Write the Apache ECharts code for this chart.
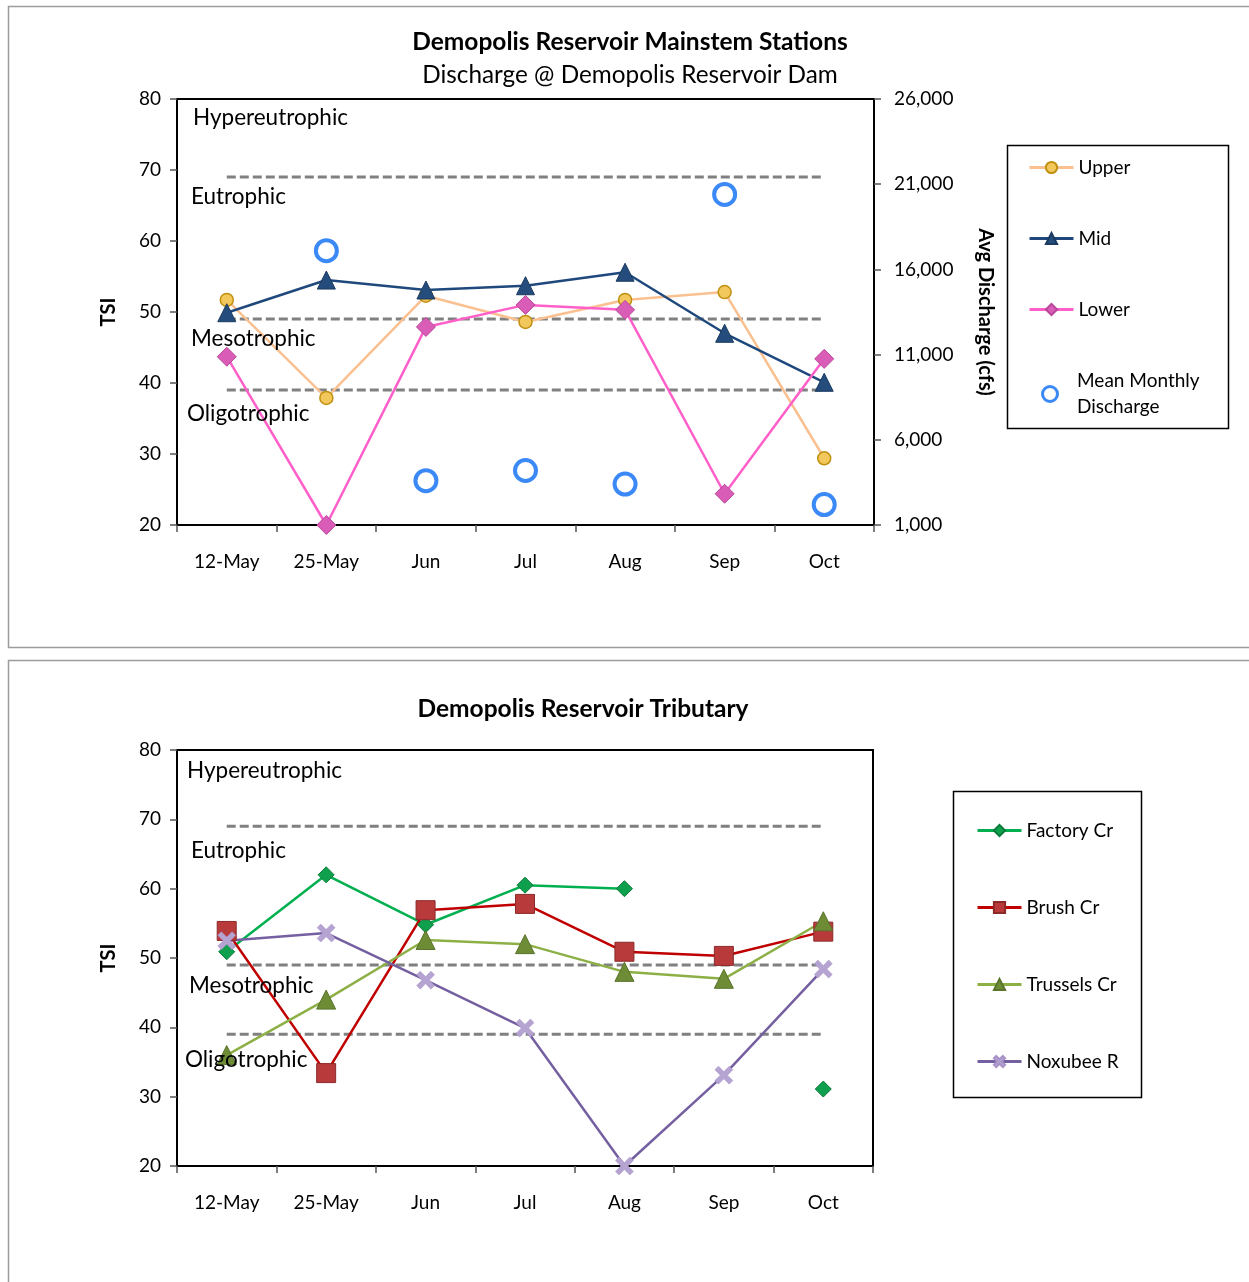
<!DOCTYPE html>
<html>
<head>
<meta charset="utf-8">
<script src="https://cdn.jsdelivr.net/npm/echarts@6/dist/echarts.min.js"></script>
<style>
  html, body { margin: 0; padding: 0; background: #fff; }
  #chart { width: 1249px; height: 1282px; }
</style>
</head>
<body>
<div id="chart"></div>
<script>
// Sampling dates
const months = ['12-May', '25-May', 'Jun', 'Jul', 'Aug', 'Sep', 'Oct'];

// Mainstem stations, TSI
const upper = [51.7, 37.9, 52.3, 48.6, 51.7, 52.8, 29.4];
const mid   = [49.9, 54.5, 53.1, 53.7, 55.6, 47.0, 40.1];
const lower = [43.7, 20.0, 47.9, 51.0, 50.3, 24.4, 43.4];

// Mean monthly discharge at the dam, cfs (no value for the first sampling)
const discharge = [null, 17100, 3600, 4200, 3400, 20400, 2200];

// Tributary stations, TSI
const factoryCr  = [50.9, 62.0, 54.8, 60.5, 60.0, null, 31.1];
const brushCr    = [53.9, 33.4, 56.9, 57.8, 50.9, 50.3, 53.8];
const trusselsCr = [36.0, 44.0, 52.6, 52.0, 48.0, 47.0, 55.3];
const noxubeeR   = [52.5, 53.6, 46.8, 39.9, 20.0, 33.1, 48.4];

// Trophic state boundaries drawn as dashed lines
const eutrophicBound    = [69, 69, 69, 69, 69, 69, 69];
const mesotrophicBound  = [49, 49, 49, 49, 49, 49, 49];
const oligotrophicBound = [39, 39, 39, 39, 39, 39, 39];

// Axis ticks
const tsiTicks  = { min: 20, max: 80, interval: 10 };
const flowTicks = { min: 1000, max: 26000, interval: 5000 };

const FONT = 'Lato, "Open Sans", sans-serif';
const X_SYMBOL = 'path://M2,0 L5,3 L8,0 L10,2 L7,5 L10,8 L8,10 L5,7 L2,10 L0,8 L3,5 L0,2 Z';

function boundSeries(data, xi, yi) {
  return {
    type: 'line', data: data, xAxisIndex: xi, yAxisIndex: yi,
    symbol: 'none', silent: true, z: 1,
    lineStyle: { color: '#808080', width: 3, type: [9, 4] }
  };
}

function catAxis(gridIndex) {
  return {
    type: 'category', gridIndex: gridIndex, data: months,
    axisLine: { lineStyle: { color: '#000', width: 2 } },
    axisTick: { show: true, length: 7, inside: false, lineStyle: { color: '#555', width: 1.5 } },
    axisLabel: { color: '#000', fontFamily: FONT, fontSize: 19, margin: 27 },
    splitLine: { show: false }
  };
}

function tsiAxis(gridIndex) {
  return {
    type: 'value', gridIndex: gridIndex,
    min: tsiTicks.min, max: tsiTicks.max, interval: tsiTicks.interval,
    name: 'TSI', nameLocation: 'middle', nameGap: 58, nameRotate: 90,
    nameTextStyle: { color: '#000', fontFamily: FONT, fontSize: 20, fontWeight: 'bold' },
    axisLine: { show: true, lineStyle: { color: '#000', width: 2 } },
    axisTick: { show: true, length: 7, inside: false, lineStyle: { color: '#555', width: 1.5 } },
    axisLabel: { color: '#000', fontFamily: FONT, fontSize: 19, margin: 16 },
    splitLine: { show: false }
  };
}

const zoneTextStyle = { fill: '#000', font: '22.5px ' + FONT };
function zoneText(text, x, y) {
  return { type: 'text', left: x, top: y - 11, style: Object.assign({ text: text }, zoneTextStyle), z: 5 };
}

const chart = echarts.init(document.getElementById('chart'), null, { renderer: 'canvas' });

chart.setOption({
  backgroundColor: '#fff',
  animation: false,
  title: [
    { text: 'Demopolis Reservoir Mainstem Stations', left: 625, top: 25, textAlign: 'center',
      textStyle: { fontFamily: FONT, fontSize: 24.5, fontWeight: 'bold', color: '#000' } },
    { text: 'Discharge @ Demopolis Reservoir Dam', left: 625, top: 58, textAlign: 'center',
      textStyle: { fontFamily: FONT, fontSize: 24.3, fontWeight: 'normal', color: '#000' } },
    { text: 'Demopolis Reservoir Tributary', left: 578, top: 692, textAlign: 'center',
      textStyle: { fontFamily: FONT, fontSize: 24.5, fontWeight: 'bold', color: '#000' } }
  ],
  grid: [
    { left: 177, top: 99, width: 697, height: 426, show: true, borderColor: '#000', borderWidth: 2, containLabel: false },
    { left: 177, top: 750, width: 696, height: 416, show: true, borderColor: '#000', borderWidth: 2, containLabel: false }
  ],
  xAxis: [catAxis(0), catAxis(1)],
  yAxis: [
    tsiAxis(0),
    {
      type: 'value', gridIndex: 0, position: 'right',
      min: flowTicks.min, max: flowTicks.max, interval: flowTicks.interval,
      name: 'Avg Discharge (cfs)', nameLocation: 'middle', nameGap: 101, nameRotate: -90,
      nameTextStyle: { color: '#000', fontFamily: FONT, fontSize: 20, fontWeight: 'bold' },
      axisLine: { show: true, lineStyle: { color: '#000', width: 2 } },
      axisTick: { show: true, length: 7, inside: false, lineStyle: { color: '#555', width: 1.5 } },
      axisLabel: { color: '#000', fontFamily: FONT, fontSize: 19, margin: 20,
        formatter: v => v.toLocaleString('en-US') },
      splitLine: { show: false }
    },
    tsiAxis(1)
  ],
  legend: [
    { data: ['Upper', 'Mid', 'Lower'], orient: 'vertical', left: 1028, top: 158, padding: 0,
      itemWidth: 44, itemHeight: 14, itemGap: 52,
      lineStyle: { width: 3 },
      textStyle: { fontFamily: FONT, fontSize: 19, color: '#000' } },
    { data: [{ name: 'Mean Monthly Discharge', itemStyle: { borderWidth: 3 } }],
      orient: 'vertical', left: 1041, top: 355, padding: 0,
      itemWidth: 44, itemHeight: 15,
      formatter: () => 'Mean Monthly\nDischarge',
      textStyle: { fontFamily: FONT, fontSize: 19, color: '#000', lineHeight: 26, padding: [26, 0, 0, 0] } },
    { data: ['Factory Cr', 'Brush Cr', 'Trussels Cr', 'Noxubee R'], orient: 'vertical', left: 976, top: 821, padding: 0,
      itemWidth: 44, itemHeight: 14, itemGap: 58,
      lineStyle: { width: 3 },
      textStyle: { fontFamily: FONT, fontSize: 19, color: '#000' } }
  ],
  graphic: [
    // panel frames
    { type: 'rect', shape: { x: 8.5, y: 6.5, width: 1270, height: 641 }, style: { fill: 'none', stroke: '#9c9c9c', lineWidth: 1.5 }, silent: true },
    { type: 'rect', shape: { x: 8.5, y: 660.5, width: 1270, height: 660 }, style: { fill: 'none', stroke: '#9c9c9c', lineWidth: 1.5 }, silent: true },
    // legend boxes
    { type: 'rect', shape: { x: 1007.5, y: 145.5, width: 221, height: 283 }, style: { fill: 'none', stroke: '#000', lineWidth: 1.5 }, silent: true },
    { type: 'rect', shape: { x: 953.5, y: 791.5, width: 188, height: 306 }, style: { fill: 'none', stroke: '#000', lineWidth: 1.5 }, silent: true },
    // trophic zone labels
    zoneText('Hypereutrophic', 193, 117),
    zoneText('Eutrophic', 191, 196),
    zoneText('Mesotrophic', 191, 338),
    zoneText('Oligotrophic', 187, 413),
    zoneText('Hypereutrophic', 187, 770),
    zoneText('Eutrophic', 191, 850),
    zoneText('Mesotrophic', 189, 985),
    zoneText('Oligotrophic', 185, 1059)
  ],
  series: [
    boundSeries(eutrophicBound, 0, 0),
    boundSeries(mesotrophicBound, 0, 0),
    boundSeries(oligotrophicBound, 0, 0),
    {
      name: 'Upper', type: 'line', data: upper, xAxisIndex: 0, yAxisIndex: 0, z: 3,
      symbol: 'circle', symbolSize: 13,
      lineStyle: { color: '#FAC090', width: 2.5 },
      itemStyle: { color: '#F2C85C', borderColor: '#C09010', borderWidth: 1.5 }
    },
    {
      name: 'Mid', type: 'line', data: mid, xAxisIndex: 0, yAxisIndex: 0, z: 3,
      symbol: 'triangle', symbolSize: 18,
      lineStyle: { color: '#1F497D', width: 2.5 },
      itemStyle: { color: '#244C7C', borderColor: '#1B3A60', borderWidth: 1 }
    },
    {
      name: 'Lower', type: 'line', data: lower, xAxisIndex: 0, yAxisIndex: 0, z: 3,
      symbol: 'diamond', symbolSize: 19,
      lineStyle: { color: '#FF5FC8', width: 2.5 },
      itemStyle: { color: '#D95CB6', borderColor: '#B8479A', borderWidth: 1 }
    },
    {
      name: 'Mean Monthly Discharge', type: 'scatter', data: discharge, xAxisIndex: 0, yAxisIndex: 1, z: 4,
      symbol: 'circle', symbolSize: 21,
      itemStyle: { color: '#fff', borderColor: '#0A6CF5', borderWidth: 4 }
    },
    boundSeries(eutrophicBound, 1, 2),
    boundSeries(mesotrophicBound, 1, 2),
    boundSeries(oligotrophicBound, 1, 2),
    {
      name: 'Factory Cr', type: 'line', data: factoryCr, xAxisIndex: 1, yAxisIndex: 2, z: 3,
      symbol: 'diamond', symbolSize: 16,
      lineStyle: { color: '#00B050', width: 2.5 },
      itemStyle: { color: '#0FA04E', borderColor: '#0A7A3A', borderWidth: 1 }
    },
    {
      name: 'Brush Cr', type: 'line', data: brushCr, xAxisIndex: 1, yAxisIndex: 2, z: 3,
      symbol: 'rect', symbolSize: 19,
      lineStyle: { color: '#C00000', width: 2.5 },
      itemStyle: { color: '#B83A3A', borderColor: '#8C2A2A', borderWidth: 1 }
    },
    {
      name: 'Trussels Cr', type: 'line', data: trusselsCr, xAxisIndex: 1, yAxisIndex: 2, z: 3,
      symbol: 'triangle', symbolSize: 19,
      lineStyle: { color: '#8DB046', width: 2.5 },
      itemStyle: { color: '#6E8C36', borderColor: '#5A742C', borderWidth: 1 }
    },
    {
      name: 'Noxubee R', type: 'line', data: noxubeeR, xAxisIndex: 1, yAxisIndex: 2, z: 3,
      symbol: X_SYMBOL, symbolSize: 18,
      lineStyle: { color: '#7460A0', width: 2.5 },
      itemStyle: { color: '#B5A4D2', borderColor: '#A893C8', borderWidth: 0.5 }
    }
  ]
});
</script>
</body>
</html>
